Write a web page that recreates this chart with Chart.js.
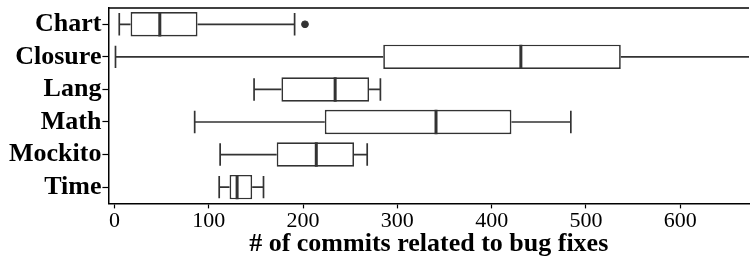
<!DOCTYPE html>
<html>
<head>
<meta charset="utf-8">
<script src="https://cdn.jsdelivr.net/npm/chart.js@4/dist/chart.umd.min.js"></script>
<style>
  html, body { margin: 0; padding: 0; background: #fff; }
  #wrap { width: 754px; height: 260px; }
</style>
</head>
<body>
<div id="wrap"><canvas id="chart"></canvas></div>
<script>
// データ（図から読み取った箱ひげ図の値）
const projects = ['Chart', 'Closure', 'Lang', 'Math', 'Mockito', 'Time'];
const whiskerLow = [5, 1, 148, 85, 112, 111];
const q1 = [17, 285, 177, 223, 172, 122];
const median = [48, 431, 234, 341, 214, 130];
const q3 = [88, 537, 270, 421, 254, 146];
const whiskerHigh = [191, 760, 282, 484, 268, 158];
const outlierProjects = ['Chart'];
const outlierValues = [202];
const xTicks = [0, 100, 200, 300, 400, 500, 600];

const LINE = '#333333';
const SERIF = "'Liberation Serif', 'Times New Roman', serif";

// ひげ・キャップ・中央値をスケール経由で描く
const whiskerPlugin = {
    id: 'whiskers',
    afterDatasetsDraw(chart) {
        const { ctx, chartArea, scales: { x, y } } = chart;
        const box = chart.getDatasetMeta(0).data;
        ctx.save();
        ctx.beginPath();
        ctx.rect(chartArea.left, chartArea.top, chartArea.right - chartArea.left, chartArea.bottom - chartArea.top);
        ctx.clip();
        ctx.strokeStyle = LINE;
        projects.forEach((p, i) => {
            const cy = y.getPixelForValue(i);
            const half = box[i].height / 2 - 1;
            const xl = x.getPixelForValue(whiskerLow[i]);
            const x1 = x.getPixelForValue(q1[i]);
            const x3 = x.getPixelForValue(q3[i]);
            const xh = x.getPixelForValue(whiskerHigh[i]);
            const xm = x.getPixelForValue(median[i]);

            ctx.lineWidth = 1.7;
            ctx.beginPath();
            ctx.moveTo(xl, cy); ctx.lineTo(x1, cy);
            ctx.moveTo(x3, cy); ctx.lineTo(xh, cy);
            ctx.moveTo(xl, cy - half); ctx.lineTo(xl, cy + half);
            ctx.moveTo(xh, cy - half); ctx.lineTo(xh, cy + half);
            ctx.stroke();

            ctx.lineWidth = 3;
            ctx.beginPath();
            ctx.moveTo(xm, cy - half - 1); ctx.lineTo(xm, cy + half + 1);
            ctx.stroke();
        });
        ctx.restore();
    }
};

// 上側の枠線
const framePlugin = {
    id: 'frame',
    afterDraw(chart) {
        const { ctx, chartArea } = chart;
        ctx.save();
        ctx.strokeStyle = '#000';
        ctx.lineWidth = 1.5;
        ctx.beginPath();
        ctx.moveTo(chartArea.left, chartArea.top);
        ctx.lineTo(chartArea.right, chartArea.top);
        ctx.stroke();
        ctx.restore();
    }
};

new Chart(document.getElementById('chart'), {
    type: 'bar',
    data: {
        labels: projects,
        datasets: [{
            label: 'box',
            data: projects.map((p, i) => [q1[i], q3[i]]),
            backgroundColor: '#ffffff',
            borderColor: LINE,
            borderWidth: 1.7,
            borderSkipped: false,
            categoryPercentage: 1,
            barPercentage: 0.75
        }, {
            type: 'scatter',
            label: 'outlier',
            data: outlierProjects.map((p, i) => ({ x: outlierValues[i], y: p })),
            backgroundColor: LINE,
            borderColor: LINE,
            pointRadius: 3.4
        }]
    },
    options: {
        indexAxis: 'y',
        responsive: true,
        maintainAspectRatio: false,
        animation: false,
        layout: { padding: { left: 8, top: 8, right: 0, bottom: 0 } },
        plugins: { legend: { display: false }, tooltip: { enabled: false } },
        scales: {
            x: {
                type: 'linear',
                min: -6.5,
                max: 673,
                afterBuildTicks: axis => { axis.ticks = xTicks.map(v => ({ value: v })); },
                grid: { display: true, drawOnChartArea: false, tickLength: 5, tickColor: '#000', tickWidth: 1.2 },
                border: { display: true, color: '#000', width: 1.5 },
                ticks: { color: '#000', padding: 0, font: { family: SERIF, size: 22 } },
                title: {
                    display: true,
                    text: '# of commits related to bug fixes',
                    color: '#000',
                    padding: { top: -6, bottom: 0 },
                    font: { family: SERIF, size: 26, weight: 'bold' }
                }
            },
            y: {
                type: 'category',
                offset: true,
                grid: { display: true, offset: false, drawOnChartArea: false, tickLength: 6, tickColor: '#000', tickWidth: 1.2 },
                border: { display: true, color: '#000', width: 1.5 },
                ticks: { color: '#000', padding: 1, autoSkip: false, font: { family: SERIF, size: 26, weight: 'bold', lineHeight: 0.4 } }
            }
        }
    },
    plugins: [whiskerPlugin, framePlugin]
});
</script>
</body>
</html>
